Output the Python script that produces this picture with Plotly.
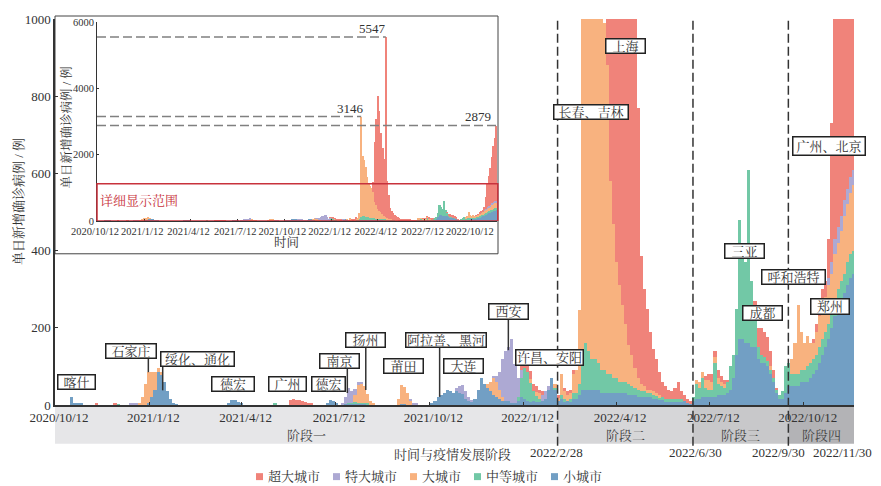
import datetime as dt
import plotly.graph_objects as go

# ---------------------------------------------------------------------------
# Daily new confirmed cases by city size, 2020-10-12 .. 2022-11-30.
# One value per 3-day period; each row holds 20 periods (60 days).
# ---------------------------------------------------------------------------
START = "2020-10-12"
END = "2022-11-30"
BIN_DAYS = 3

SUPER_CITY = (  # 超大城市
    [0] * 13 + [5, 0, 0, 0, 0, 0, 3]
    + [0] * 20
    + [0] * 20
    + [0] * 16 + [12, 16, 12, 14]
    + [10, 8, 5, 3] + [0] * 16
    + [0] * 20
    + [0] * 20
    + [0] * 11 + [10, 10, 20, 20, 20, 15, 10, 10, 0]
    + [0, 0, 0, 5, 0, 10, 10, 10, 10, 0, 0, 0, 0, 0, 0, 0, 0, 0, 0, 300]
    + [1800, 2600, 3400, 3000, 2400, 2000, 1700, 5417, 1100, 700,
       330, 250, 210, 150, 110, 90, 60, 40, 35, 25]
    + [20, 30, 45, 20, 15, 10, 5, 0, 0, 0, 0, 10, 15, 20, 15, 20, 15, 10, 5, 0]
    + [0, 0, 0, 0, 0, 0, 0, 20, 50, 70, 65, 60, 40, 20, 5, 0, 0, 0, 0, 0]
    + [0, 0, 0, 0, 0, 0, 10, 20, 40, 50,
       40, 100, 360, 700, 900, 1100, 1400, 1700, 1900, 2269]
)

HUGE_CITY = (  # 特大城市
    [0] * 20
    + [0, 0, 0, 0, 4, 4, 4] + [0] * 13
    + [0] * 20
    + [0] * 20
    + [0] * 13 + [5, 20, 40, 30, 15, 8, 5]
    + [0] * 15 + [6, 6, 3, 0, 0]
    + [0] * 10 + [10, 20, 25, 20, 10, 5, 0, 0, 0, 0]
    + [0, 0, 5, 15, 45, 100, 130, 140, 165, 100, 50, 20, 0, 0, 0, 0, 0, 0, 15, 20]
    + [10] + [0] * 19
    + [0] * 20
    + [0] * 20
    + [0] * 20
    + [0] * 11 + [20, 30, 40, 40, 40, 40, 40, 40, 40]
)

LARGE_CITY = (  # 大城市
    [0] * 20
    + [0, 0, 0, 0, 0, 0, 0, 5, 20, 55, 80, 65, 45, 10, 5, 0, 0, 0, 0, 0]
    + [0] * 20
    + [0] * 20
    + [0] * 17 + [20, 45, 50]
    + [45, 25, 10, 4, 0, 0, 0, 0, 0, 0, 0, 15, 50, 45, 30, 10, 0, 0, 0, 0]
    + [0] * 20
    + [10, 25, 45, 40, 25, 10, 0, 0, 0, 0, 0, 0, 0, 0, 10, 0, 10, 15, 0, 0]
    + [0, 0, 10, 10, 55, 20, 15, 15, 50, 60,
       190, 3026, 1800, 1700, 1500, 1200, 1000, 950, 900, 800]
    + [500, 400, 300, 250, 200, 150, 100, 80, 50, 30, 20, 15, 10, 10, 10, 5, 5, 0, 0, 0]
    + [0, 0, 0, 0, 0, 0, 0, 0, 10, 15, 15, 20, 25, 20, 15, 15, 10, 10, 0, 0]
    + [0] * 12 + [10, 0, 0, 0, 0, 0, 0, 40]
    + [80, 180, 100, 70, 80, 50, 40, 60, 80, 80,
       90, 100, 100, 120, 120, 130, 150, 150, 160, 170]
)

MEDIUM_CITY = (  # 中等城市
    [0] * 19 + [2]
    + [2] + [0] * 19
    + [0] * 20
    + [0] * 11 + [3] + [0] * 8
    + [0] * 15 + [2, 3, 3, 3, 2]
    + [2, 2] + [0] * 18
    + [0] * 20
    + [0] * 10 + [10, 50, 80, 75, 50, 25, 15, 5, 0, 0]
    + [0, 0, 5, 0, 10, 5, 0, 5, 15, 15, 30, 80, 120, 100, 80, 80, 70, 60, 60, 50]
    + [50, 40, 40, 30, 30, 30, 30, 25, 20, 20, 15, 15, 10, 10, 10, 10, 5, 5, 5, 5]
    + [5, 5, 5, 5, 0, 0, 0, 10, 40, 30, 50, 25, 20, 20, 90, 30, 25, 20, 30, 60]
    + [60, 120, 310, 250, 210, 450, 170, 100, 30, 20, 15, 15, 10, 10, 10, 10, 20, 70, 60, 30]
    + [30, 30, 30, 30, 40, 40, 40, 40, 40, 40, 40, 40, 40, 40, 50, 50, 50, 60, 60, 60]
)

SMALL_CITY = (  # 小城市
    [0, 0, 0, 0, 0, 20, 6, 5, 4, 0] + [0] * 10
    + [0] * 10 + [5, 20, 40, 85, 80, 60, 35, 15, 6, 2]
    + [0] * 16 + [6, 12, 14, 8]
    + [3] + [0] * 19
    + [0, 0, 0, 0, 0, 0, 0, 0, 6, 12, 11, 5, 0, 0, 2, 3, 3, 4, 3, 3]
    + [3, 2, 0, 0, 0, 0, 0, 0, 0, 0, 0, 0, 2, 2, 0, 0, 0, 0, 0, 0]
    + [0, 0, 3, 10, 20, 25, 30, 40, 35, 30, 35, 30, 28, 15, 10, 8, 15, 40, 70, 55]
    + [45, 35, 25, 20, 15, 10, 10, 10, 5, 5, 10, 20, 15, 10, 8, 10, 8, 10, 10, 15]
    + [40, 70, 40, 10, 15, 10, 10, 10, 15, 15, 25, 40, 40, 40, 40, 40, 40, 30, 30, 30]
    + [30, 30, 30, 30, 30, 30, 25, 25, 25, 20, 20, 20, 20, 20, 15, 15, 15, 15, 10, 10]
    + [10, 10, 10, 10, 10, 5, 5, 10, 15, 15, 20, 20, 20, 20, 20, 25, 25, 25, 30, 40]
    + [70, 130, 170, 170, 160, 160, 150, 150, 120, 110, 110, 100, 80, 60, 30, 15, 15, 30, 50, 50]
    + [50, 50, 60, 60, 60, 70, 80, 90, 110, 130, 150, 170, 200, 230, 250, 270, 290, 310, 330, 340]
)

SERIES_NAMES = ["超大城市", "特大城市", "大城市", "中等城市", "小城市"]
SERIES_VALUES = [SUPER_CITY, HUGE_CITY, LARGE_CITY, MEDIUM_CITY, SMALL_CITY]
SERIES_COLORS = ["#F0837A", "#ADA9D3", "#F8B27F", "#72C8A6", "#729FC4"]

TICK_DATES = ["2020-10-12", "2021-01-12", "2021-04-12", "2021-07-12", "2021-10-12",
              "2022-01-12", "2022-04-12", "2022-07-12", "2022-10-12"]
TICK_LABELS = ["2020/10/12", "2021/1/12", "2021/4/12", "2021/7/12", "2021/10/12",
               "2022/1/12", "2022/4/12", "2022/7/12", "2022/10/12"]

# stage boundaries as drawn on the time axis, and their captions
PHASE_EDGES = ["2020-10-12", "2022-02-14", "2022-06-26", "2022-09-27", "2022-11-30"]
PHASE_NAMES = ["阶段一", "阶段二", "阶段三", "阶段四"]
EDGE_LABELS = ["2022/2/28", "2022/6/30", "2022/9/30", "2022/11/30"]

# outbreak call-outs: text, date, case level of box centre, box width/height (px)
CITY_LABELS = [
    ("喀什", "2020-11-02", 60, 38, 15),
    ("石家庄", "2020-12-25", 140, 51, 15),
    ("绥化、通化", "2021-02-27 12:00", 120, 74, 15),
    ("德宏", "2021-04-04", 55, 43, 15),
    ("广州", "2021-05-27", 55, 38, 15),
    ("德宏", "2021-07-06", 55, 34, 15),
    ("南京", "2021-07-16", 115, 40, 15),
    ("扬州", "2021-08-11", 169, 40, 15),
    ("莆田", "2021-09-16 12:00", 102, 40, 15),
    ("阿拉善、黑河", "2021-10-28", 169, 81, 15),
    ("大连", "2021-11-14", 102, 40, 15),
    ("西安", "2021-12-28", 242, 40, 16),
    ("许昌、安阳", "2022-02-06", 124, 68, 16),
    ("长春、吉林", "2022-03-18 10:00", 759, 75, 15),
    ("上海", "2022-04-21", 930, 40, 15),
    ("三亚", "2022-08-15", 400, 40, 15),
    ("呼和浩特", "2022-10-02", 331, 64, 15),
    ("成都", "2022-09-01 19:00", 238, 40, 15),
    ("广州、北京", "2022-11-05 14:00", 670, 73, 19),
    ("郑州", "2022-11-06 14:00", 255, 39, 16),
]
# leader lines: date, top, bottom (cases)
LEADERS = [("2021-01-11", 121, 85), ("2021-01-25", 100, 38), ("2021-07-24", 95, 31),
           ("2021-08-11", 150, 39), ("2021-10-22", 150, 21), ("2021-12-28", 224, 142)]

# windows in which the overview marks the highest day
PEAK_WINDOWS = [("2022-03-01", "2022-03-31", 5), ("2022-04-01", "2022-05-31", 2),
                ("2022-10-01", "2022-11-30", -4)]

# ---------------------------------------------------------------------------
W, H = 881, 486
ML, MR, MT, MB = 55, 27, 17, 81
FONT = "Liberation Serif, Noto Serif CJK SC, Noto Sans CJK SC, serif"
INK = "#333333"


def px_x(p):
    return (p - ML) / (W - ML - MR)


def px_y(p):
    return (H - MB - p) / (H - MT - MB)


def note(**kw):
    """Annotation centred on its anchor point unless told otherwise."""
    base = dict(showarrow=False, xanchor="center", yanchor="middle")
    base.update(kw)
    return base


t0 = dt.datetime.fromisoformat(START)
n_bins = len(SMALL_CITY)
centers = [t0 + dt.timedelta(days=BIN_DAYS * i + BIN_DAYS / 2) for i in range(n_bins)]
bar_width = BIN_DAYS * 86400000
totals = [sum(v) for v in zip(*SERIES_VALUES)]

fig = go.Figure()
for xa, ya in (("x", "y"), ("x2", "y2")):
    # stacked from small cities at the bottom up to megacities on top
    for name, color, vals in reversed(list(zip(SERIES_NAMES, SERIES_COLORS, SERIES_VALUES))):
        fig.add_trace(go.Bar(
            x=centers, y=vals, width=bar_width, name=name,
            marker=dict(color=color, line=dict(width=0)),
            showlegend=False, hoverinfo="skip", xaxis=xa, yaxis=ya,
        ))

shapes = []
annotations = []

# overview panel frame
shapes.append(dict(type="rect", xref="paper", yref="paper", layer="below",
                   x0=0, x1=px_x(498), y0=px_y(253), y1=px_y(14),
                   fillcolor="white", line=dict(color="#444", width=1)))

# stage bands under the time axis
band_colors = ["#e6e6e8", "#d6d6d8", "#c8c8ca", "#b3b3b6"]
for i, name in enumerate(PHASE_NAMES):
    a, b = PHASE_EDGES[i], PHASE_EDGES[i + 1]
    shapes.append(dict(type="rect", xref="x", yref="paper", layer="below",
                       x0=a, x1=b, y0=px_y(444), y1=0,
                       fillcolor=band_colors[i], line=dict(width=0)))
    mid = dt.datetime.fromisoformat(a) + (dt.datetime.fromisoformat(b) - dt.datetime.fromisoformat(a)) / 2
    annotations.append(note(x=mid, y=px_y(436), xref="x", yref="paper", text=name,
                            font=dict(size=13, color="#444")))

# stage boundary lines and their dates
edge_shift = [-1, 3, -10, -12]
for i, lab in enumerate(EDGE_LABELS):
    edge = PHASE_EDGES[i + 1]
    if i < 3:
        shapes.append(dict(type="line", xref="x", yref="paper", layer="above",
                           x0=edge, x1=edge, y0=px_y(446), y1=1,
                           line=dict(color=INK, width=1.5, dash="9px,4px")))
    annotations.append(note(x=edge, y=px_y(453), xref="x", yref="paper", text=lab,
                            xshift=edge_shift[i], font=dict(size=13, color=INK)))

# outbreak call-outs
for text, x, y, bw, bh in CITY_LABELS:
    annotations.append(note(x=x, y=y, xref="x", yref="y", text=text,
                            width=bw - 2, height=bh - 2, borderpad=0,
                            bgcolor="white", bordercolor="#222", borderwidth=1.5,
                            font=dict(size=13, color=INK)))
for x, y0, y1 in LEADERS:
    shapes.append(dict(type="line", xref="x", yref="y", x0=x, x1=x, y0=y0, y1=y1,
                       line=dict(color=INK, width=1.5)))

# overview: highest days, marked with a dashed guide and the value
for a, b, shift in PEAK_WINDOWS:
    ta, tb = dt.datetime.fromisoformat(a), dt.datetime.fromisoformat(b)
    idx = [i for i, c in enumerate(centers) if ta <= c <= tb + dt.timedelta(days=1)]
    k = max(idx, key=lambda i: totals[i])
    peak = totals[k]
    shapes.append(dict(type="line", xref="x2", yref="y2", x0=START, x1=centers[k],
                       y0=peak, y1=peak, line=dict(color="#808080", width=1.5, dash="9px,4px")))
    annotations.append(note(x=centers[k], y=peak, xref="x2", yref="y2", text=str(peak),
                            xanchor="right", yanchor="bottom",
                            xshift=shift, yshift=-1, font=dict(size=13, color=INK)))

# range shown by the main panel
detail_box_top = 1120
shapes.append(dict(type="rect", xref="x2 domain", yref="y2", layer="above",
                   x0=0, x1=1.002, y0=0, y1=detail_box_top,
                   line=dict(color="#C8323C", width=1.5)))
annotations.append(note(x=px_x(98), y=px_y(199), xref="paper", yref="paper",
                        text="详细显示范围", xanchor="left",
                        font=dict(size=13, color="#C8323C")))

# axis titles
annotations += [
    note(x=px_x(18), y=px_y(201), xref="paper", yref="paper", text="单日新增确诊病例 / 例",
         textangle=-90, font=dict(size=13, color=INK)),
    note(x=px_x(452), y=px_y(455), xref="paper", yref="paper", text="时间与疫情发展阶段",
         font=dict(size=13, color=INK)),
    note(x=px_x(66), y=px_y(126), xref="paper", yref="paper", text="单日新增确诊病例 / 例",
         textangle=-90, font=dict(size=12.5, color=INK)),
    note(x=px_x(286), y=px_y(242), xref="paper", yref="paper", text="时间",
         font=dict(size=12.5, color=INK)),
]

# legend row
lx = 256
for name, color in zip(SERIES_NAMES, SERIES_COLORS):
    shapes.append(dict(type="rect", xref="paper", yref="paper",
                       x0=px_x(lx), x1=px_x(lx + 7), y0=px_y(480.5), y1=px_y(473.5),
                       fillcolor=color, line=dict(width=0)))
    annotations.append(note(x=px_x(lx + 10), y=px_y(476.5), xref="paper", yref="paper",
                            text=name, xanchor="left", font=dict(size=13, color=INK)))
    lx += 13 * len(name) + 25

axis_common = dict(showgrid=False, zeroline=False, showline=True, linecolor=INK,
                   ticks="inside", tickcolor=INK)

fig.update_layout(
    width=W, height=H, margin=dict(l=ML, r=MR, t=MT, b=MB),
    paper_bgcolor="white", plot_bgcolor="rgba(0,0,0,0)",
    barmode="stack", bargap=0, showlegend=False,
    font=dict(family=FONT, size=13, color=INK),
    xaxis=dict(type="date", range=[START, END], tickvals=TICK_DATES, ticktext=TICK_LABELS,
               ticklen=3, linewidth=1.5, ticklabelshift=4, tickfont=dict(size=13),
               **axis_common),
    yaxis=dict(range=[0, 1000], tickvals=[0, 200, 400, 600, 800, 1000], ticklen=3,
               linewidth=1.5, tickfont=dict(size=13), **axis_common),
    xaxis2=dict(type="date", range=[START, END], tickvals=TICK_DATES, ticktext=TICK_LABELS,
                domain=[px_x(97), px_x(497)], anchor="y2", ticklen=2, linewidth=1,
                ticklabelshift=-2, tickfont=dict(size=10.5), **axis_common),
    yaxis2=dict(range=[0, 6000], tickvals=[0, 2000, 4000, 6000],
                domain=[px_y(220), px_y(20)], anchor="x2", ticklen=2, linewidth=1,
                tickfont=dict(size=10.5), **axis_common),
    shapes=shapes,
    annotations=annotations,
)

fig.write_html("out.html")
